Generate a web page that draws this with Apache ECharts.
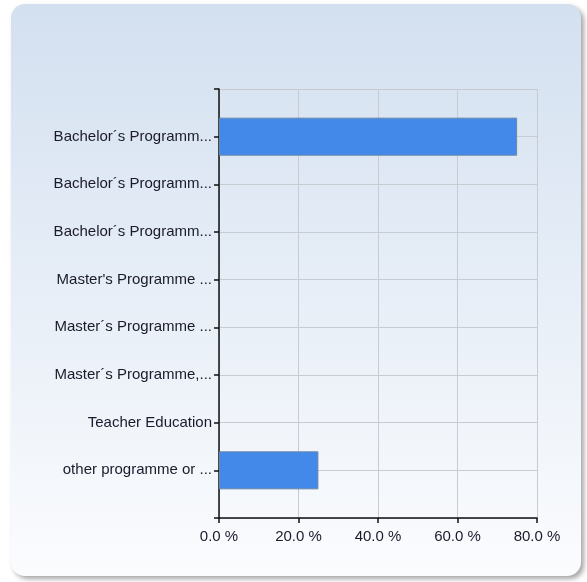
<!DOCTYPE html>
<html>
<head>
<meta charset="utf-8">
<script src="https://cdn.jsdelivr.net/npm/echarts@6/dist/echarts.min.js"></script>
<style>
html,body{margin:0;padding:0;background:#ffffff;}
#c{width:587px;height:582px;}
</style>
</head>
<body>
<div id="c"></div>
<script>
var categories = [
  'Bachelor´s Programm...',
  'Bachelor´s Programm...',
  'Bachelor´s Programm...',
  'Master\'s Programme ...',
  'Master´s Programme ...',
  'Master´s Programme,...',
  'Teacher Education',
  'other programme or ...'
];
var values = [75, 0, 0, 0, 0, 0, 0, 25];
var xTicks = [0, 20, 40, 60, 80];

var yData = [''].concat(categories).concat(['']);
var sData = [null].concat(values.map(function(v){return v === 0 ? null : v;})).concat([null]);

var chart = echarts.init(document.getElementById('c'));
chart.setOption({
  backgroundColor: '#ffffff',
  animation: false,
  graphic: [{
    type: 'rect',
    z: -100,
    silent: true,
    shape: { x: 11, y: 4, width: 570, height: 572, r: 14 },
    style: {
      fill: new echarts.graphic.LinearGradient(0, 0, 0, 1, [
        { offset: 0, color: '#d3e0f0' },
        { offset: 1, color: '#fbfcfe' }
      ]),
      shadowBlur: 5,
      shadowOffsetX: 3,
      shadowOffsetY: 3,
      shadowColor: 'rgba(0,0,0,0.35)'
    }
  }],
  grid: { left: 219, top: 89, width: 318, height: 429, containLabel: false },
  xAxis: {
    type: 'value',
    min: xTicks[0],
    max: xTicks[xTicks.length - 1],
    interval: 20,
    axisLine: { show: true, lineStyle: { color: '#111', width: 1.5 } },
    axisTick: { show: true, length: 5, lineStyle: { color: '#111', width: 1.5 } },
    splitLine: { show: true, lineStyle: { color: '#c8ccd2', width: 1 } },
    axisLabel: {
      margin: 11,
      color: '#1a1a2a',
      fontFamily: 'Liberation Sans, Arial, sans-serif',
      fontSize: 15,
      formatter: function (v) { return v.toFixed(1) + ' %'; }
    }
  },
  yAxis: {
    type: 'category',
    inverse: true,
    boundaryGap: false,
    data: yData,
    axisLine: { show: true, lineStyle: { color: '#111', width: 1.5 } },
    axisTick: { show: true, length: 5, lineStyle: { color: '#111', width: 1.5 } },
    splitLine: { show: true, lineStyle: { color: '#c8ccd2', width: 1 } },
    axisLabel: {
      margin: 7,
      interval: 0,
      color: '#1a1a2a',
      fontFamily: 'Liberation Sans, Arial, sans-serif',
      fontSize: 15
    }
  },
  series: [{
    type: 'bar',
    data: sData,
    barWidth: 38,
    itemStyle: {
      color: '#4289ea',
      borderColor: '#6a86a8',
      borderWidth: 1
    }
  }]
});
</script>
</body>
</html>
